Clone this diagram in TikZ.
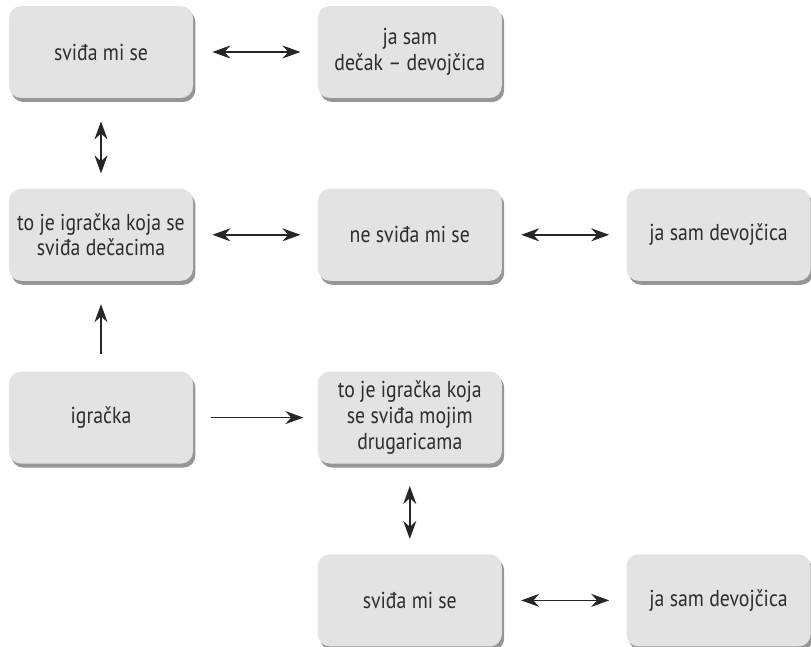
\documentclass[tikz,border=0pt]{standalone}
\usepackage{fontspec}
\setmainfont{PT Sans}[FakeStretch=0.86]
\usepackage{tikz}
\usetikzlibrary{arrows.meta, positioning, shadows}
\definecolor{boxgray}{RGB}{227, 227, 227}
\definecolor{shadegray}{RGB}{150, 150, 150}
\definecolor{textgray}{RGB}{45, 45, 45}

\begin{document}
\begin{tikzpicture}[
  x=0.5pt, y=-0.5pt,
  node distance=45pt and 62pt,
  toybox/.style={rectangle, rounded corners=6pt, fill=boxgray,
               drop shadow={shadow xshift=1.2pt, shadow yshift=-2pt, fill=shadegray, opacity=1},
               minimum height=46pt, minimum width=92pt, inner xsep=1pt, inner ysep=2pt,
               align=center, text=textgray, font=\fontsize{11.5}{12.8}\selectfont},
  arrow/.style={-{Stealth[length=9pt, width=6.5pt]}, line width=0.8pt, color=black!85},
  twoway/.style={{Stealth[length=9pt, width=6.5pt]}-{Stealth[length=9pt, width=6.5pt]}, line width=0.8pt, color=black!85},
]
  \useasboundingbox (0,0) rectangle (811,647);

  \node[toybox] at (101,52) (like1) {sviđa mi se};
  \node[toybox, right=of like1] (boygirl) {ja sam\\dečak -- devojčica};
  \node[toybox, below=of like1] (boytoy) {to je igračka koja se\\sviđa dečacima};
  \node[toybox, right=of boytoy] (dislike) {ne sviđa mi se};
  \node[toybox, right=of dislike] (girl1) {ja sam devojčica};
  \node[toybox, below=of boytoy] (toy) {igračka};
  \node[toybox, right=of toy] (girltoy) {to je igračka koja\\se sviđa mojim\\drugaricama};
  \node[toybox, below=of girltoy] (like2) {sviđa mi se};
  \node[toybox, right=of like2] (girl2) {ja sam devojčica};

  % horizontal links
  \draw[twoway, shorten <=9.5pt, shorten >=8.5pt] (like1) -- (boygirl);
  \draw[twoway, shorten <=9.5pt, shorten >=8.5pt] (boytoy) -- (dislike);
  \draw[twoway, shorten <=9.5pt, shorten >=8.5pt] (dislike) -- (girl1);
  \draw[arrow, shorten <=9pt, shorten >=7pt] (toy) -- (girltoy);
  \draw[twoway, shorten <=9.5pt, shorten >=8.5pt] (like2) -- (girl2);

  % vertical links
  \draw[twoway, shorten <=11.5pt, shorten >=7.5pt] (like1) -- (boytoy);
  \draw[arrow, shorten <=8.5pt, shorten >=11.5pt] (toy) -- (boytoy);
  \draw[twoway, shorten <=11pt, shorten >=7.5pt] (girltoy) -- (like2);
\end{tikzpicture}
\end{document}
